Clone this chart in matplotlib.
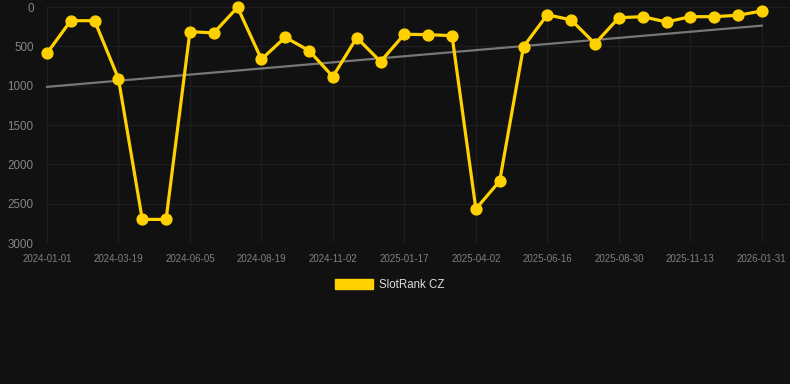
import matplotlib

matplotlib.use("Agg")
import matplotlib.pyplot as plt
from matplotlib.patches import Patch
import pandas as pd

# monthly rank snapshots, 2024-01-01 .. 2026-01-31
START, END = "2024-01-01", "2026-01-31"
RANKS = [588, 174, 174, 910, 2700, 2700, 313, 330, 4, 664, 385, 555, 885, 390,
         694, 346, 352, 364, 2567, 2212, 504, 98, 165, 466, 136, 123, 190, 123,
         123, 105, 51]
TREND = [1015, 237]  # trend line at first / last date
TICK_LABELS = ["2024-01-01", "2024-03-19", "2024-06-05", "2024-08-19", "2024-11-02",
               "2025-01-17", "2025-04-02", "2025-06-16", "2025-08-30", "2025-11-13",
               "2026-01-31"]
Y_TICKS = [0, 500, 1000, 1500, 2000, 2500, 3000]
SERIES = "SlotRank CZ"

BG = "#111111"
YELLOW = "#FFD100"

plt.rcParams["font.family"] = ["Liberation Sans", "DejaVu Sans"]

dates = pd.date_range(START, END, periods=len(RANKS))
tick_pos = dates[::3]

fig = plt.figure(figsize=(7.9, 3.84), dpi=100, facecolor=BG)
ax = fig.add_axes([46 / 790, 1 - 243 / 384, 744 / 790, 236 / 384], facecolor=BG)

ax.plot([dates[0], dates[-1]], TREND, color="#777777", lw=1.6, zorder=2)
ax.plot(dates, RANKS, color=YELLOW, lw=2.3, marker="o", ms=7.8, zorder=3,
        clip_on=False, solid_joinstyle="round")

ax.set_ylim(3000, 0)
ax.set_xlim(dates[0] - pd.Timedelta(days=1), dates[-1] + pd.Timedelta(days=30))
ax.set_yticks(Y_TICKS, [str(v) for v in Y_TICKS])
ax.set_xticks(tick_pos, TICK_LABELS)
ax.tick_params(axis="y", length=0, pad=9, labelsize=8.4, labelcolor="#858585")
ax.tick_params(axis="x", length=0, pad=8, labelsize=7, labelcolor="#7f7f7f")
ax.grid(True, color="#1e1e1e", lw=0.9)
ax.set_axisbelow(True)
for s in ax.spines.values():
    s.set_visible(False)

fig.legend(handles=[Patch(color=YELLOW, label=SERIES)], loc="center",
           bbox_to_anchor=(390 / 790, 1 - 285 / 384), frameon=False,
           fontsize=8.3, labelcolor="#dddddd", handlelength=3.3,
           handleheight=0.85, handletextpad=0.5)

fig.savefig("out.png", dpi=100, facecolor=BG)
